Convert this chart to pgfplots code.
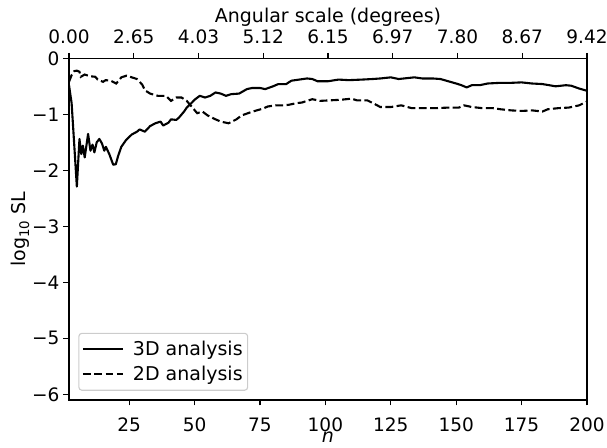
\documentclass[border=0pt]{standalone}
\usepackage{fontspec}
\setmainfont{DejaVu Sans}
\usepackage{pgfplots}
\pgfplotsset{compat=1.18}
\begin{document}
\begin{tikzpicture}
\pgfplotsset{
  common/.style={
    scale only axis, width=518pt, height=341.7pt,
    xmin=2, xmax=200, ymin=-6.1, ymax=0,
    axis line style={line width=1.15pt},
    tick style={line width=1.15pt, black},
    major tick length=5.5pt,
    tick align=outside,
    /pgf/number format/assume math mode=true,
    tick label style={font=\fontsize{18.5}{22}\selectfont},
    label style={font=\fontsize{19}{23}\selectfont},
  }
}
\begin{axis}[common,
  xtick pos=bottom, ytick pos=left,
  xtick={25,50,75,100,125,150,175,200},
  ytick={-6,-5,-4,-3,-2,-1,0},
  yticklabels={\mbox{\textminus 6},\mbox{\textminus 5},\mbox{\textminus 4},\mbox{\textminus 3},\mbox{\textminus 2},\mbox{\textminus 1},\mbox{0}},
  xticklabel style={inner ysep=1pt, yshift=-11.5pt},
  yticklabel style={xshift=-0.5pt},
  xlabel={\textit{n}},
  ylabel={log\textsubscript{10} SL},
  xlabel style={at={(axis description cs:0.5,-0.108)}, anchor=center, inner sep=0.5pt},
  ylabel style={at={(axis description cs:-0.0946,0.5)}, anchor=center},
  legend style={at={(0.018,0.027)}, anchor=south west,
    font=\fontsize{19}{23}\selectfont,
    draw=black!20, line width=1.1pt, rounded corners=3pt,
    inner xsep=3pt, inner ysep=6pt, row sep=5pt,
    /tikz/every odd column/.append style={column sep=7pt}},
  legend cell align=left,
  legend image code/.code={\draw[#1] (0pt,0pt) -- (40pt,0pt);},
]
\addplot[black, line width=2.1pt, line join=round] coordinates {
(2,-0.48) (3,-0.80) (3.5,-1.17) (5,-2.29) (6,-1.44) (6.7,-1.71) (7.3,-1.56) (8,-1.77) (9.3,-1.35) (10.2,-1.65) (11,-1.54) (11.7,-1.68) (12.6,-1.50) (13.6,-1.44) (14.6,-1.52) (15.5,-1.65) (16.1,-1.58) (17.4,-1.71) (18.9,-1.90) (19.9,-1.89) (20.8,-1.74) (22,-1.58) (23.8,-1.46) (26,-1.36) (28,-1.31) (29,-1.27) (31,-1.31) (33,-1.21) (35,-1.16) (37,-1.13) (38,-1.20) (40,-1.15) (41,-1.09) (43,-1.10) (44,-1.06) (46,-0.95) (47,-0.88) (49,-0.79) (50,-0.74) (52,-0.67) (54,-0.70) (56,-0.67) (58,-0.61) (60,-0.63) (62,-0.67) (64,-0.64) (67,-0.63) (70,-0.55) (72,-0.53) (75,-0.53) (77,-0.55) (80,-0.50) (82,-0.46) (85,-0.46) (87,-0.40) (90,-0.38) (93,-0.36) (95,-0.37) (97,-0.41) (101,-0.41) (105,-0.38) (109,-0.39) (114,-0.38) (118,-0.37) (121,-0.36) (125,-0.34) (128,-0.37) (132,-0.35) (134,-0.34) (137,-0.36) (141,-0.36) (144,-0.37) (147,-0.41) (150,-0.45) (152,-0.48) (154,-0.52) (156,-0.48) (159,-0.48) (162,-0.45) (166,-0.44) (170,-0.44) (175,-0.43) (179,-0.45) (183,-0.46) (188,-0.50) (192,-0.48) (194,-0.49) (197,-0.54) (200,-0.58)
};
\addlegendentry{3D analysis}
\addplot[black, line width=2.1pt, dash pattern=on 7.9pt off 3.4pt] coordinates {
(2,-0.42) (3,-0.30) (4,-0.23) (5,-0.22) (6,-0.24) (6.5,-0.33) (8,-0.29) (10,-0.32) (12,-0.33) (13,-0.38) (15,-0.42) (16,-0.39) (18,-0.40) (20,-0.45) (21,-0.40) (22,-0.34) (24,-0.31) (26,-0.34) (28,-0.37) (30,-0.47) (31,-0.57) (33,-0.63) (36,-0.67) (39,-0.67) (41,-0.76) (43,-0.70) (45,-0.70) (47,-0.76) (49,-0.87) (51,-0.98) (53,-0.95) (55,-1.02) (58,-1.09) (60,-1.13) (63,-1.16) (66,-1.09) (68,-1.02) (71,-0.97) (73,-0.94) (76,-0.90) (78,-0.86) (81,-0.84) (84,-0.84) (86,-0.83) (89,-0.80) (91,-0.79) (95,-0.73) (98,-0.76) (102,-0.75) (106,-0.74) (110,-0.72) (112,-0.75) (116,-0.75) (119,-0.82) (121,-0.87) (125,-0.87) (129,-0.84) (133,-0.89) (137,-0.89) (142,-0.89) (147,-0.88) (151,-0.88) (153,-0.84) (156,-0.87) (160,-0.89) (164,-0.89) (167,-0.91) (171,-0.93) (175,-0.94) (179,-0.93) (183,-0.95) (185,-0.91) (189,-0.89) (193,-0.88) (197,-0.84) (200,-0.77)
};
\addlegendentry{2D analysis}
\coordinate (SW) at (rel axis cs:0,0);
\coordinate (NE) at (rel axis cs:1,1);
\end{axis}
\begin{axis}[common,
  axis y line=none,
  axis x line*=top,
  xtick={2,26.75,51.5,76.25,101,125.75,150.5,175.25,200},
  xticklabels={0.00,2.65,4.03,5.12,6.15,6.97,7.80,8.67,9.42},
  xticklabel style={yshift=5.4pt},
  xlabel={Angular scale (degrees)},
  xlabel style={at={(axis description cs:0.5,1.1194)}, anchor=center},
]
\end{axis}
\pgfresetboundingbox
\path ([shift={(-69pt,-48pt)}]SW) rectangle ([shift={(20pt,58.3pt)}]NE);
\end{tikzpicture}
\end{document}
